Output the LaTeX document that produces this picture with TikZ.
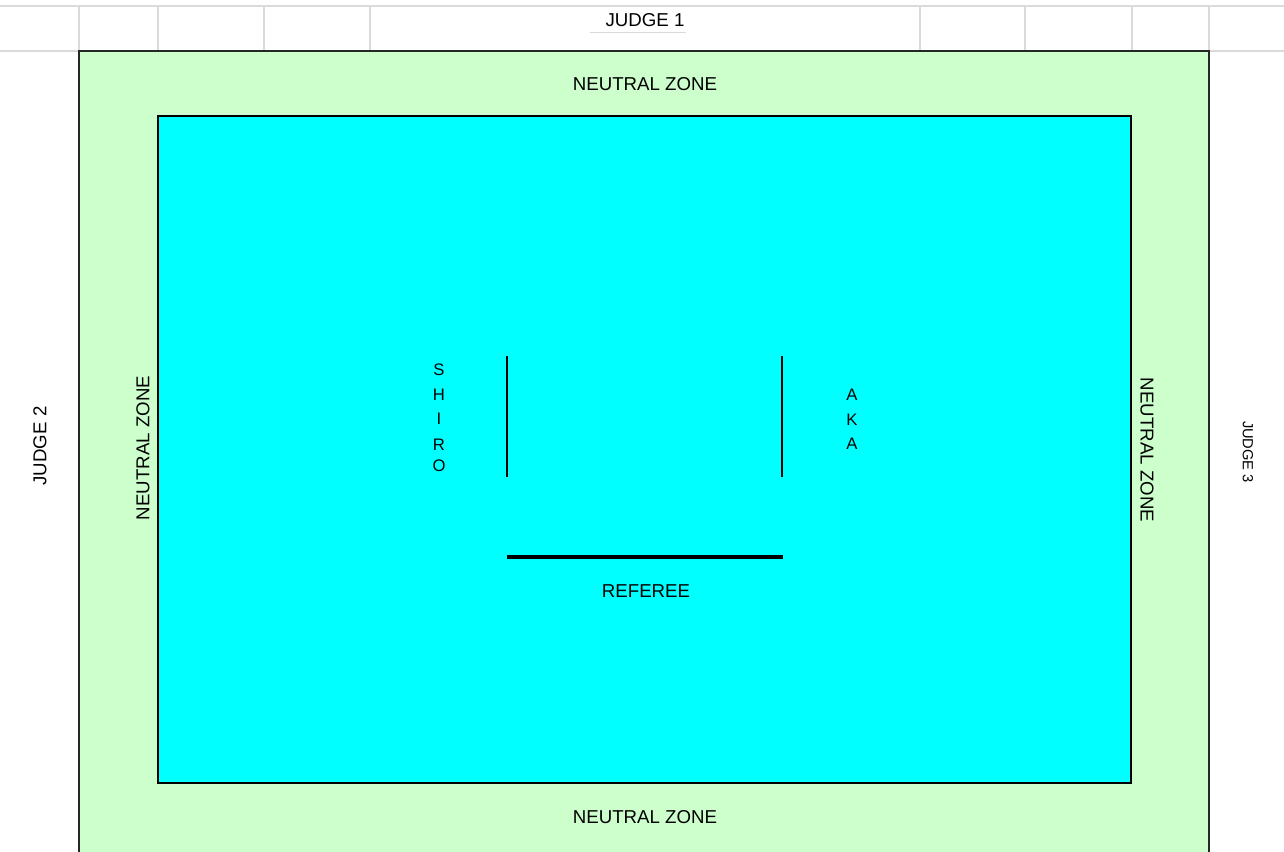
\documentclass[tikz,border=0pt]{standalone}
\usepackage{fontspec}
\setmainfont{Liberation Sans}
\usetikzlibrary{positioning}
\definecolor{zonegreen}{RGB}{204,255,204}
\definecolor{matcyan}{RGB}{0,255,255}
\definecolor{gridgray}{RGB}{218,218,218}

\begin{document}
\begin{tikzpicture}[
    x=0.75pt, y=-0.75pt,
    every node/.style={font=\fontsize{14}{16}\selectfont, inner sep=0pt},
    grid/.style={draw=gridgray, line width=0.9pt},
    zone/.style={fill=zonegreen, draw=black!85, line width=0.8pt},
    mat/.style={fill=matcyan, draw=black, line width=1.8pt},
    mark line/.style={draw=black, line width=1.8pt},
    ref line/.style={draw=black, line width=2.6pt},
    lbl/.style={font=\fontsize{14}{16}\selectfont},
    small lbl/.style={font=\fontsize{11}{13}\selectfont},
    letter/.style={font=\fontsize{12.5}{14}\selectfont},
]
\useasboundingbox (0,0) rectangle (1284,852);
\fill[white] (0,0) rectangle (1284,852);

% ====== SPREADSHEET GRID ======
\draw[grid] (0,6) -- (1284,6);
\draw[grid] (0,51) -- (1284,51);
\foreach \gx in {79,158,264,370,920,1025,1132,1209}
    \draw[grid] (\gx,6) -- (\gx,51);
\draw[grid, line width=0.5pt] (590,32) -- (686,32);

% ====== AREA ======
\path[zone] (79,852) -- (79,51) -- (1209,51) -- (1209,852);
\path[mat] (158,116) rectangle (1131,783);

% ====== JUDGES ======
\node[lbl] (judge1) at (645,20) {JUDGE 1};
\node[lbl, rotate=90] (judge2) at (40,446) {JUDGE 2};
\node[small lbl, rotate=-90] (judge3) at (1248,452) {JUDGE 3};

% ====== NEUTRAL ZONE ======
\node[lbl] (nz-top)    at (645,84)  {NEUTRAL ZONE};
\node[lbl] (nz-bottom) at (645,817) {NEUTRAL ZONE};
\node[lbl, rotate=90]  (nz-left)  at (143,448) {NEUTRAL ZONE};
\node[lbl, rotate=-90] (nz-right) at (1147,450) {NEUTRAL ZONE};

% ====== STARTING LINES ======
\coordinate (shiro-top) at (507,356);
\coordinate (shiro-bot) at (507,477);
\coordinate (aka-top)   at (782,356);
\coordinate (aka-bot)   at (782,477);
\coordinate (ref-l)     at (507,557);
\coordinate (ref-r)     at (783,557);
\draw[mark line] (shiro-top) -- (shiro-bot);
\draw[mark line] (aka-top) -- (aka-bot);
\draw[ref line] (ref-l) -- (ref-r);

% ====== COMPETITORS ======
\foreach \ch/\cy [count=\i] in {S/370, H/395, I/419, R/445, O/466}
    \node[letter] (shiro-\i) at (439,\cy) {\ch};
\foreach \ch/\cy [count=\i] in {A/395, K/420, A/444}
    \node[letter] (aka-\i) at (852,\cy) {\ch};

\node[lbl] (referee) at (646,591) {REFEREE};

\end{tikzpicture}
\end{document}
